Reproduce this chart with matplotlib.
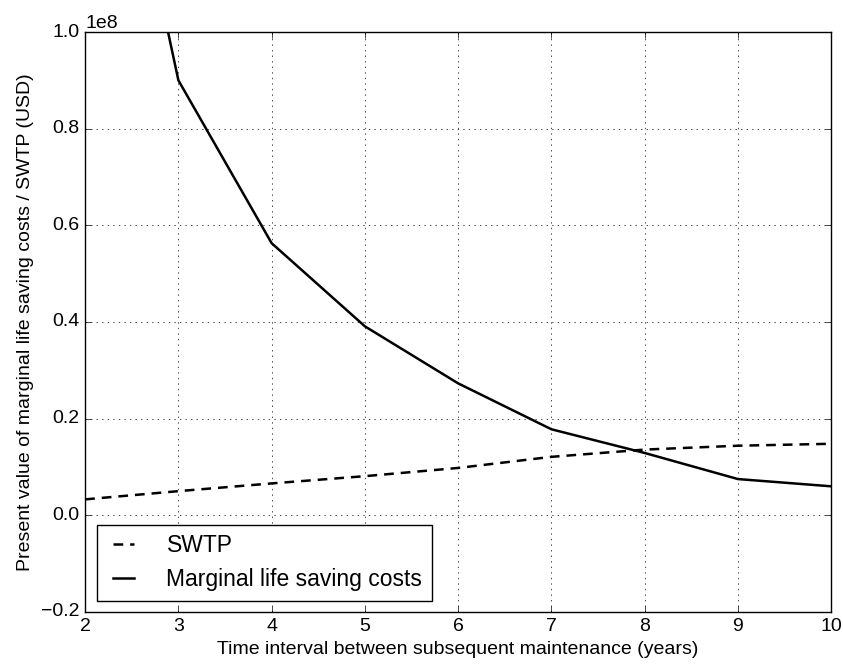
import matplotlib
matplotlib.use("Agg")
import matplotlib.pyplot as plt

# Data
years = [2, 3, 4, 5, 6, 7, 8, 9, 10]
swtp = [0.033e8, 0.050e8, 0.066e8, 0.081e8, 0.098e8, 0.121e8, 0.136e8, 0.144e8, 0.148e8]
marginal = [1.80e8, 0.90e8, 0.563e8, 0.391e8, 0.273e8, 0.178e8, 0.129e8, 0.075e8, 0.060e8]

plt.style.use("classic")
plt.rcParams["font.family"] = ["Liberation Sans", "DejaVu Sans"]

fig = plt.figure(figsize=(8.43, 6.67), dpi=100, facecolor="white")
ax = fig.add_axes([0.101, 0.0825, 0.885, 0.8695])

ax.plot(years, swtp, color="k", lw=1.8, linestyle=(0, (7, 5)), label="SWTP")
ax.plot(years, marginal, "k-", lw=1.8, label="Marginal life saving costs")

ax.set_xlim(2, 10)
ax.set_ylim(-0.2e8, 1.0e8)
ax.set_xticks(range(2, 11))
ax.set_xlabel("Time interval between subsequent maintenance (years)", fontsize=14)
ax.set_ylabel("Present value of marginal life saving costs / SWTP (USD)", fontsize=14)
ax.tick_params(labelsize=14)
ax.yaxis.get_offset_text().set_fontsize(14)
ax.grid(True)
ax.legend(loc="lower left", fontsize=16.5, handlelength=1.55, handletextpad=1.1)

fig.savefig("out.png", dpi=100, facecolor="white")
